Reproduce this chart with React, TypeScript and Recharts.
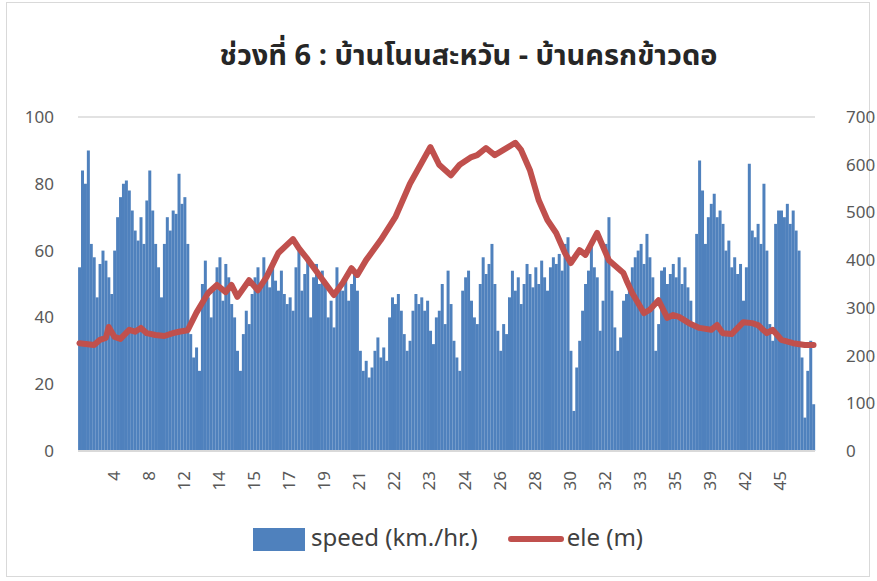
import React from "react";
import { ComposedChart, Bar, Line, XAxis, YAxis, CartesianGrid } from "recharts";

// speed (km./hr.) per sample
const speed: number[] = [
  55, 84, 80, 90, 62, 58, 46, 56, 60, 57, 52, 47,
  60, 70, 76, 80, 81, 78, 72, 66, 63, 70, 62, 75,
  84, 72, 62, 55, 46, 62, 70, 66, 72, 71, 83, 74,
  76, 62, 35, 28, 31, 24, 50, 57, 46, 40, 48, 55,
  58, 45, 56, 52, 44, 40, 30, 24, 35, 42, 38, 47,
  52, 55, 50, 58, 53, 49, 57, 51, 48, 54, 47, 44,
  46, 42, 55, 60, 48, 53, 58, 40, 52, 56, 50, 54,
  50, 40, 45, 37, 55, 50, 48, 52, 45, 50, 53, 48,
  30, 24, 27, 22, 25, 30, 34, 28, 31, 27, 40, 46,
  44, 47, 42, 35, 30, 33, 42, 47, 44, 46, 42, 45,
  36, 32, 40, 42, 50, 38, 54, 44, 33, 28, 24, 48,
  52, 54, 45, 40, 38, 50, 58, 53, 56, 62, 50, 36,
  30, 38, 35, 46, 54, 48, 52, 44, 50, 56, 53, 49,
  55, 50, 57, 52, 48, 55, 58, 56, 59, 54, 62, 64,
  30, 12, 25, 33, 42, 50, 54, 63, 55, 52, 36, 45,
  62, 70, 48, 37, 30, 34, 45, 47, 50, 55, 58, 60,
  62, 56, 65, 58, 52, 30, 38, 54, 55, 50, 53, 56,
  52, 58, 50, 55, 49, 45, 38, 65, 87, 78, 62, 70,
  74, 77, 70, 72, 68, 60, 63, 55, 58, 53, 56, 45,
  55, 86, 66, 64, 68, 62, 80, 60, 38, 33, 68, 72,
  72, 70, 74, 68, 72, 66, 60, 28, 10, 24, 33, 14,
];

// elevation (m) read at selected samples
const eleIndex: number[] = [
  0, 5, 7, 9, 10, 12, 14, 17, 19, 21, 23, 26, 29, 32, 34, 37, 40, 44, 47, 50,
  52, 54, 58, 61, 64, 68, 73, 75, 78, 80, 83, 87, 90, 93, 95, 98, 103, 108, 113, 120,
  123, 127, 130, 134, 136, 139, 142, 145, 149, 151, 154, 157, 160, 163, 166, 168, 171, 173, 177, 181,
  186, 187, 189, 193, 195, 198, 201, 203, 205, 209, 212, 216, 218, 220, 223, 227, 230, 232, 235, 237,
  240, 244, 248, 251,
];
const eleValue: number[] = [
  226, 222, 233, 237, 260, 239, 235, 254, 250, 258, 247, 243, 241, 247, 250, 253, 290, 331, 348, 333,
  348, 323, 358, 337, 365, 415, 444, 425, 402, 385, 360, 327, 352, 383, 369, 400, 442, 490, 560, 637,
  600, 578, 600, 616, 620, 635, 620, 631, 646, 631, 589, 526, 484, 457, 415, 394, 421, 411, 457, 400,
  373, 358, 331, 289, 296, 316, 279, 285, 281, 266, 258, 254, 264, 247, 245, 270, 268, 264, 247, 254,
  233, 226, 222, 222,
];

// category axis labels shown every 12th sample
const tickIndex: number[] = [12, 24, 36, 48, 60, 72, 84, 96, 108, 120, 132, 144, 156, 168, 180, 192, 204, 216, 228, 240];
const tickLabels: string[] = ["4", "8", "12", "14", "15", "17", "19", "21", "22", "23", "24", "26", "28", "30", "32", "33", "35", "39", "42", "45"];

const leftTicks = [0, 20, 40, 60, 80, 100];
const rightTicks = [0, 100, 200, 300, 400, 500, 600, 700];

const data = speed.map((s, i) => {
  const k = eleIndex.indexOf(i);
  return { i, speed: s, ele: k >= 0 ? eleValue[k] : null };
});

const FONT = "'Noto Sans Thai', 'Leelawadee UI', Tahoma, 'Noto Sans', 'DejaVu Sans', sans-serif";
const TXT = "#595959";

const XTick = (props: any) => {
  const { x, y, payload } = props;
  const idx = tickIndex.indexOf(payload.value);
  const label = idx >= 0 ? tickLabels[idx] : "";
  return (
    <text
      x={x}
      y={y + 12}
      transform={`rotate(-90, ${x}, ${y + 12})`}
      textAnchor="end"
      dominantBaseline="central"
      fill={TXT}
      fontSize={17}
      fontFamily={FONT}
    >
      {label}
    </text>
  );
};

export default function App() {
  return (
    <div
      style={{
        position: "absolute",
        left: 0,
        top: 0,
        width: 877,
        height: 581,
        background: "#fff",
        fontFamily: FONT,
      }}
    >
      <div
        style={{
          position: "absolute",
          left: 6,
          top: 2,
          width: 864,
          height: 575,
          border: "1px solid #D9D9D9",
          boxSizing: "border-box",
        }}
      />
      <div
        style={{
          position: "absolute",
          left: 0,
          width: 877,
          top: 34,
          textAlign: "center",
          fontSize: 29,
          fontWeight: "bold",
          color: "#262626",
          paddingLeft: 60,
          boxSizing: "border-box",
          whiteSpace: "nowrap",
        }}
      >
        ช่วงที่ 6 : บ้านโนนสะหวัน - บ้านครกข้าวดอ
      </div>
      <div style={{ position: "absolute", left: 0, top: 0 }}>
        <ComposedChart
          width={877}
          height={581}
          data={data}
          margin={{ top: 117, right: 12, bottom: 100, left: 12 }}
          barCategoryGap="3%"
        >
          <CartesianGrid vertical={false} stroke="#D9D9D9" strokeWidth={1.5} />
          <XAxis
            dataKey="i"
            type="category"
            ticks={tickIndex}
            interval={0}
            tick={<XTick />}
            tickLine={false}
            axisLine={{ stroke: "#D9D9D9", strokeWidth: 2 }}
            height={30}
          />
          <YAxis
            yAxisId="left"
            domain={[0, 100]}
            ticks={leftTicks}
            width={66}
            axisLine={false}
            tickLine={false}
            tick={{ fill: TXT, fontSize: 17, fontFamily: FONT }}
            tickMargin={18}
          />
          <YAxis
            yAxisId="right"
            orientation="right"
            domain={[0, 700]}
            ticks={rightTicks}
            width={50}
            axisLine={false}
            tickLine={false}
            tick={{ fill: TXT, fontSize: 17, fontFamily: FONT }}
            tickMargin={25}
          />
          <Bar yAxisId="left" dataKey="speed" fill="#4F81BD" isAnimationActive={false} />
          <Line
            yAxisId="right"
            dataKey="ele"
            stroke="#C0504D"
            strokeWidth={6}
            dot={false}
            connectNulls
            type="linear"
            strokeLinejoin="round"
            strokeLinecap="round"
            isAnimationActive={false}
          />
        </ComposedChart>
      </div>
      <div
        style={{
          position: "absolute",
          top: 521,
          left: 253,
          display: "flex",
          alignItems: "center",
          fontSize: 24,
          color: "#404040",
          whiteSpace: "nowrap",
        }}
      >
        <span style={{ display: "inline-block", width: 52, height: 23, background: "#4F81BD", marginRight: 6 }} />
        <span>speed (km./hr.)</span>
        <span
          style={{
            display: "inline-block",
            width: 56,
            height: 6,
            borderRadius: 3,
            background: "#C0504D",
            marginLeft: 30,
            marginRight: 3,
          }}
        />
        <span>ele (m)</span>
      </div>
    </div>
  );
}
